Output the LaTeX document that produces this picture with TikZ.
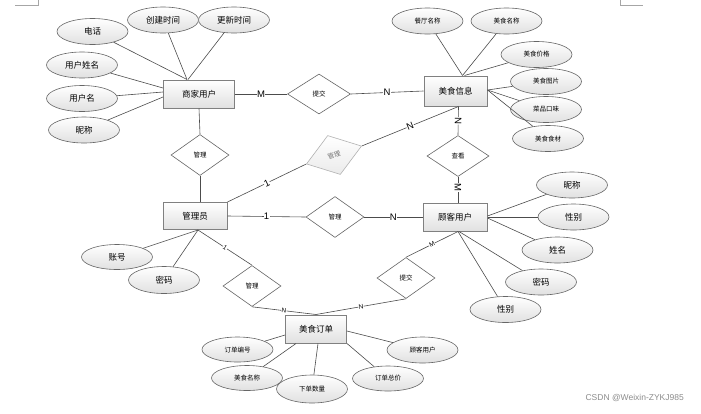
\documentclass[tikz,border=0pt]{standalone}
\usepackage{fontspec}
\setmainfont{Liberation Sans}
\newfontfamily\cjk{Noto Sans CJK SC}
\usetikzlibrary{shapes.geometric,calc}
\begin{document}
\begin{tikzpicture}[x=1pt,y=-1pt,
  ent/.style={draw=black!50, line width=1pt, top color=white, bottom color=black!12,
    minimum width=#1, minimum height=28pt, inner sep=0pt, font=\cjk\fontsize{8.5}{10}\selectfont},
  ent/.default=64pt,
  attr/.style={ellipse, draw=black!60, line width=0.6pt, top color=white, bottom color=black!12,
    minimum width=71pt, minimum height=26pt, inner sep=0pt, font=\cjk\fontsize{8.5}{10}\selectfont},
  sattr/.style={attr, font=\cjk\fontsize{6.5}{8}\selectfont},
  rel/.style={diamond, aspect=1.41, draw=black!60, line width=0.6pt, fill=white,
    minimum width=58pt, minimum height=41pt, inner sep=0pt, font=\cjk\fontsize{6.5}{8}\selectfont},
  conn/.style={draw=black!70, line width=0.6pt},
  lab/.style={font=\fontsize{9.5}{10}\selectfont, fill=white, inner sep=0.4pt},
  slab/.style={font=\fontsize{6.5}{7}\selectfont, fill=white, inner sep=0.3pt, sloped},
  pagemark/.style={draw=black!35, line width=0.5pt}
]
\useasboundingbox (0,0) rectangle (701,413);
\fill[white] (0,0) rectangle (701,413);
% page corner marks
\draw[pagemark] (38,0) -- (38,5) -- (15,5);
\draw[pagemark] (620,0) -- (620,5) -- (643,5);

% entities
\node[ent=71pt] (sh) at (199,94) {商家用户};
\node[ent=63pt, minimum height=30pt] (ms) at (455.5,91) {美食信息};
\node[ent=64pt, minimum height=27pt] (gl) at (195,216) {管理员};
\node[ent=64pt] (gk) at (455,217) {顾客用户};
\node[ent=61pt] (dd) at (316,329) {美食订单};

% relationships
\node[rel, minimum width=63pt, minimum height=40pt] (tj1) at (319,94) {提交};
\node[rel] (gl1) at (200,155) {管理};
\node[rel, draw=black!30, fill=none, top color=white, bottom color=black!8, text=black!55, rotate=18] (gl2) at (334,155) {管理};
\node[rel] (gl3) at (335,217) {管理};
\node[rel, minimum width=62pt] (ck) at (458,156) {查看};
\node[rel] (tj2) at (406,278) {提交};
\node[rel] (gl4) at (252,286) {管理};

% attributes of 商家用户
\node[attr] (a1) at (92.5,31.5) {电话};
\node[attr] (a2) at (163,20) {创建时间};
\node[attr] (a3) at (234,20) {更新时间};
\node[attr] (a4) at (82,65) {用户姓名};
\node[attr] (a5) at (82,98.5) {用户名};
\node[attr] (a6) at (84,130) {昵称};
\draw[conn] (a1) -- ($(sh.north)+(-12,0)$);
\draw[conn] (a2) -- ($(sh.north)+(-12,0)$);
\draw[conn] (a3) -- ($(sh.north)+(-11,0)$);
\draw[conn] (a4) -- ($(sh.west)+(0,-6)$);
\draw[conn] (a5) -- ($(sh.west)+(0,-2)$);
\draw[conn] (a6) -- ($(sh.west)+(0,3)$);

% attributes of 美食信息
\node[sattr] (b1) at (427.5,21) {餐厅名称};
\node[sattr] (b2) at (506.5,21) {美食名称};
\node[sattr] (b3) at (536.5,54.5) {美食价格};
\node[sattr] (b4) at (546,81.5) {美食图片};
\node[sattr] (b5) at (546,109.5) {菜品口味};
\node[sattr] (b6) at (548,138.5) {美食食材};
\draw[conn] (b1) -- ($(ms.north)+(7,0)$);
\draw[conn] (b2) -- ($(ms.north)+(7,0)$);
\draw[conn] (b3) -- ($(ms.north)+(9,0)$);
\draw[conn] (b4) -- ($(ms.east)+(0,-1)$);
\draw[conn] (b5) -- ($(ms.east)+(0,-1)$);
\draw[conn] (b6) -- ($(ms.east)+(0,-1)$);

% attributes of 顾客用户
\node[attr] (c1) at (572,185) {昵称};
\node[attr] (c2) at (573.5,217) {性别};
\node[attr] (c3) at (557.5,250) {姓名};
\node[attr] (c4) at (541,282) {密码};
\node[attr] (c5) at (505.5,309.5) {性别};
\draw[conn] (c1) -- ($(gk.east)+(0,-1)$);
\draw[conn] (c2) -- (gk.east);
\draw[conn] (c3) -- ($(gk.east)+(0,1)$);
\draw[conn] (c4) -- ($(gk.south)+(4,0)$);
\draw[conn] (c5) -- ($(gk.south)+(3,0)$);

% attributes of 管理员
\node[attr, minimum height=25pt] (d1) at (117,257) {账号};
\node[attr, minimum height=27pt] (d2) at (164,280) {密码};
\draw[conn] (d1) -- ($(gl.south)+(3,0)$);
\draw[conn] (d2) -- ($(gl.south)+(3,0)$);

% attributes of 美食订单
\node[sattr, minimum height=25pt] (e1) at (237.5,349.5) {订单编号};
\node[sattr, minimum height=25pt] (e2) at (247,378) {美食名称};
\node[sattr, minimum height=28pt] (e3) at (312,389) {下单数量};
\node[sattr, minimum height=25pt] (e4) at (388,378.5) {订单总价};
\node[sattr] (e5) at (422.5,350) {顾客用户};
\draw[conn] (e1) -- ($(dd.west)+(0,6)$);
\draw[conn] (e2) -- ($(dd.south)+(-20,0)$);
\draw[conn] (e3) -- ($(dd.south)+(2,0)$);
\draw[conn] (e4) -- (dd.south east);
\draw[conn] (e5) -- ($(dd.east)+(0,2)$);

% relationship connectors
\draw[conn] (sh.east) -- node[lab] {M} (tj1.west);
\draw[conn] (tj1.east) -- node[lab] {N} (ms.west);
\draw[conn] (sh.south) -- (gl1.north);
\draw[conn] (gl1.south) -- (gl1.south |- gl.north);
\draw[conn] (gl.east) -- node[lab] {1} (gl3.west);
\draw[conn] (gl3.east) -- node[lab] {N} (gk.west);
\draw[conn] (gl.north east) -- node[lab, sloped] {1} (gl2.west);
\draw[conn] (gl2.east) -- node[lab, sloped] {N} ($(ms.south)+(3,0)$);
\draw[conn] ($(ms.south)+(3,0)$) -- node[lab, sloped] {N} (ck.north);
\draw[conn] (ck.south) -- node[lab, sloped, pos=0.42] {M} ($(gk.north)+(3,0)$);
\draw[conn] ($(gl.south)+(3,0)$) -- node[slab] {1} (gl4.north);
\draw[conn] (gl4.south) -- node[slab] {N} (dd.north);
\draw[conn] ($(gk.south)+(3,0)$) -- node[slab] {M} (tj2.north);
\draw[conn] (tj2.south) -- node[slab] {N} (dd.north);

% watermark
\node[font=\fontsize{8.5}{10}\selectfont, text=black!45, anchor=east, inner sep=0pt] (wm) at (684,398) {CSDN @Weixin-ZYKJ985};
\end{tikzpicture}
\end{document}
